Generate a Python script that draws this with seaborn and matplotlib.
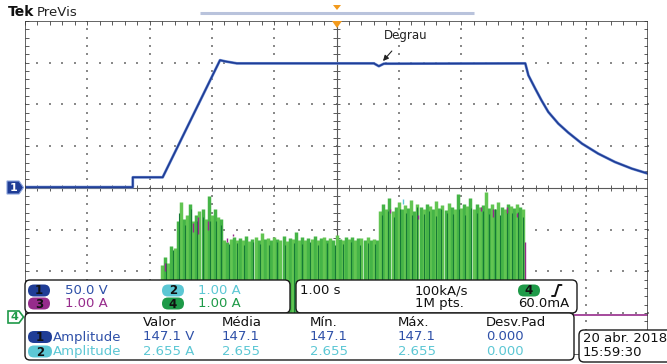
import numpy as np
import pandas as pd
import matplotlib
matplotlib.use("Agg")
import matplotlib.pyplot as plt
import seaborn as sns
from matplotlib.patches import FancyBboxPatch, Polygon, Rectangle

sns.set_style("white")
plt.rcParams["font.family"] = ["DejaVu Sans"]

# ---------------- data ----------------
# Channel 1 (voltage, V) vs time (s)
ch1_t = [0.0, 1.73, 1.73, 2.21, 3.13, 3.22, 3.40, 5.60, 5.68, 5.76, 8.03,
         8.08, 8.19, 8.29, 8.40, 8.56, 8.72, 8.94, 9.20, 9.47, 9.74, 10.0]
ch1_v = [0.8, 0.8, 12.6, 12.6, 153.0, 151.5, 149.2, 149.2, 145.8, 148.8, 149.2,
         134.9, 118.9, 104.9, 90.9, 77.0, 66.2, 53.0, 41.0, 30.9, 23.0, 17.0]

# Channel 4 (current, A) - sampled peak envelope
ch4_t_a = [2.20, 2.25, 2.30, 2.35, 2.40, 2.45, 2.50, 2.55, 2.60, 2.65,
           2.70, 2.75, 2.80, 2.85, 2.90, 2.95, 3.00, 3.05, 3.10, 3.15]
ch4_i_a = [1.25, 1.45, 1.30, 1.70, 1.65, 2.30, 2.75, 2.35, 2.45, 2.70,
           2.30, 2.45, 2.55, 2.60, 2.35, 2.90, 2.45, 2.60, 2.40, 2.35]
ch4_t_b = [3.20, 3.25, 3.30, 3.35, 3.40, 3.45, 3.50, 3.55, 3.60, 3.65,
           3.70, 3.75, 3.80, 3.85, 3.90, 3.95, 4.00, 4.05, 4.10, 4.15,
           4.20, 4.25, 4.30, 4.35, 4.40, 4.45, 4.50, 4.55, 4.60, 4.65,
           4.70, 4.75, 4.80, 4.85, 4.90, 4.95, 5.00, 5.05, 5.10, 5.15,
           5.20, 5.25, 5.30, 5.35, 5.40, 5.45, 5.50, 5.55, 5.60, 5.65]
ch4_i_b = [1.85, 1.80, 1.88, 1.92, 1.84, 1.90, 1.86, 1.95, 1.83, 1.88,
           1.91, 1.85, 2.02, 1.87, 1.90, 1.84, 1.93, 1.88, 1.86, 1.95,
           1.82, 1.90, 1.88, 2.05, 1.86, 1.92, 1.85, 1.90, 1.87, 1.94,
           1.84, 1.89, 1.92, 1.86, 1.90, 1.85, 1.98, 1.88, 1.84, 1.91,
           1.87, 1.93, 1.85, 1.89, 1.90, 1.86, 1.92, 1.84, 1.88, 1.85]
ch4_t_c = [5.70, 5.75, 5.80, 5.85, 5.90, 5.95, 6.00, 6.05, 6.10, 6.15,
           6.20, 6.25, 6.30, 6.35, 6.40, 6.45, 6.50, 6.55, 6.60, 6.65,
           6.70, 6.75, 6.80, 6.85, 6.90, 6.95, 7.00, 7.05, 7.10, 7.15,
           7.20, 7.25, 7.30, 7.35, 7.40, 7.45, 7.50, 7.55, 7.60, 7.65,
           7.70, 7.75, 7.80, 7.85, 7.90, 7.95, 8.00]
ch4_i_c = [2.55, 2.70, 2.60, 2.85, 2.55, 2.65, 2.75, 2.58, 2.68, 2.62,
           2.80, 2.55, 2.70, 2.64, 2.58, 2.72, 2.66, 2.60, 2.78, 2.62,
           2.68, 2.57, 2.74, 2.65, 2.60, 2.95, 2.62, 2.70, 2.66, 2.85,
           2.60, 2.72, 2.64, 2.68, 3.00, 2.62, 2.70, 2.58, 2.76, 2.65,
           2.60, 2.72, 2.66, 2.62, 2.70, 2.64, 2.60]

# darker current pulses of channel 4
ch4_dark_t = [2.27, 2.38, 2.47, 2.57, 2.66, 2.76, 2.86, 2.97, 3.06, 3.14,
              3.27, 3.40, 3.52, 3.66, 3.78, 3.91, 4.05, 4.18, 4.31, 4.45,
              4.58, 4.70, 4.84, 4.97, 5.10, 5.24, 5.37, 5.50, 5.62,
              5.73, 5.82, 5.92, 6.02, 6.11, 6.21, 6.30, 6.40, 6.49, 6.59,
              6.68, 6.78, 6.87, 6.97, 7.06, 7.16, 7.25, 7.35, 7.44, 7.54,
              7.63, 7.73, 7.82, 7.92, 8.00]
ch4_dark_i = [1.30, 1.60, 2.50, 2.20, 2.60, 2.30, 2.40, 2.30, 2.30, 2.20,
              1.75, 1.78, 1.72, 1.80, 1.76, 1.74, 1.79, 1.73, 1.77, 1.75,
              1.80, 1.72, 1.78, 1.74, 1.76, 1.79, 1.73, 1.77, 1.75,
              2.45, 2.55, 2.40, 2.60, 2.50, 2.45, 2.65, 2.48, 2.55, 2.42,
              2.60, 2.50, 2.46, 2.58, 2.44, 2.62, 2.50, 2.55, 2.48, 2.60,
              2.45, 2.56, 2.50, 2.52, 2.40]

# Channel 3 (current, A)
ch3_t = [0.0, 10.0]
ch3_i = [0.0, 0.0]
ch3_spk_t = [2.25, 2.70, 2.78, 2.94, 3.24, 3.34, 5.86, 6.31, 7.32, 7.51, 7.74, 7.90, 8.03]
ch3_spk_lo = [1.10, 2.05, 2.00, 2.10, 1.80, 1.95, 2.50, 2.35, 2.55, 2.40, 2.50, 2.40, 0.30]
ch3_spk_hi = [1.30, 2.25, 2.40, 2.30, 1.90, 2.00, 2.60, 2.45, 2.65, 2.60, 2.65, 2.50, 1.80]

# Channel 2 (current, A)
ch2_spk_t = [6.07]
ch2_spk_lo = [2.72]
ch2_spk_hi = [2.82]

# scales / offsets (div)
ch1_scale, ch1_off = 50.0, 0.0
ch4_scale, ch4_off = 1.0, -3.1
ch3_off = -3.06

# texts
box1_rows = [[("1", "50.0 V"), ("2", "1.00 A")], [("3", "1.00 A"), ("4", "1.00 A")]]
meas_headers = ["Valor", "Média", "Mín.", "Máx.", "Desv.Pad"]
meas_row1 = ["147.1 V", "147.1", "147.1", "147.1", "0.000"]
meas_row2 = ["2.655 A", "2.655", "2.655", "2.655", "0.000"]

# ---------------- colours ----------------
C1 = "#1f3d96"
C1T = "#2e50a8"
C2 = "#5cc7d4"
C3 = "#962b8b"
C4 = "#1e9a48"
G_LIGHT = "#62c552"
G_MID = "#45b447"
G_DARK = "#167a36"

W, H = 667, 364
fig = plt.figure(figsize=(W / 100, H / 100), dpi=100)
fig.patch.set_facecolor("white")
L, R, T, B = 25, 648, 21, 354.6
ax = fig.add_axes([L / W, 1 - B / H, (R - L) / W, (B - T) / H])

# ---- graticule ----
mx = np.arange(0, 10.001, 0.2)
my = np.arange(-4, 4.001, 0.2)
for gx in [1, 2, 3, 4, 6, 7, 8, 9]:
    ax.scatter(np.full(len(my), gx), my, s=1.2, c="#8a8a8a", marker="s", lw=0, zorder=1)
for gy in [-3, -2, -1, 1, 2, 3]:
    ax.scatter(mx, np.full(len(mx), gy), s=1.2, c="#8a8a8a", marker="s", lw=0, zorder=1)
ax.axhline(0, color="#5a5a5a", lw=0.8, zorder=1)
ax.axvline(5, color="#5a5a5a", lw=0.8, zorder=1)
ax.vlines(mx, -0.07, 0.07, color="#5a5a5a", lw=0.7, zorder=1)
ax.hlines(my, 4.95, 5.05, color="#5a5a5a", lw=0.7, zorder=1)
ax.vlines(mx, 3.9, 4.0, color="#5a5a5a", lw=0.7, zorder=1)
ax.vlines(mx, -4.0, -3.9, color="#5a5a5a", lw=0.7, zorder=1)
ax.hlines(my, 0, 0.07, color="#5a5a5a", lw=0.7, zorder=1)
ax.hlines(my, 9.93, 10, color="#5a5a5a", lw=0.7, zorder=1)
ax.add_patch(Rectangle((0, -4), 10, 8, fill=False, ec="#3a3a3a", lw=1.1, zorder=6))

# ---- channel 3 baseline ----
ax.plot(ch3_t, np.array(ch3_i) + ch3_off, color=C3, lw=1.2, zorder=2)

# ---- channel 4 ----
for ts, ii in [(ch4_t_a, ch4_i_a), (ch4_t_b, ch4_i_b), (ch4_t_c, ch4_i_c)]:
    ts = np.array(ts); ii = np.array(ii)
    cols = [G_LIGHT if k % 2 == 0 else G_MID for k in range(len(ts))]
    ax.vlines(ts, ch4_off, ch4_off + ii / ch4_scale, colors=cols, lw=2.5, zorder=3)
ax.vlines(ch4_dark_t, ch4_off, ch4_off + np.array(ch4_dark_i) / ch4_scale,
          colors=G_DARK, lw=0.8, zorder=4)
ax.vlines(ch3_spk_t, ch4_off + np.array(ch3_spk_lo), ch4_off + np.array(ch3_spk_hi),
          colors=C3, lw=1.0, zorder=4)
ax.vlines(ch2_spk_t, ch4_off + np.array(ch2_spk_lo), ch4_off + np.array(ch2_spk_hi),
          colors=C2, lw=1.0, zorder=4)

# ---- channel 1 ----
df1 = pd.DataFrame({"t": ch1_t, "div": np.array(ch1_v) / ch1_scale + ch1_off})
sns.lineplot(data=df1, x="t", y="div", ax=ax, estimator=None, sort=False,
             color="#6f8ed2", lw=2.0, zorder=5)
sns.lineplot(data=df1, x="t", y="div", ax=ax, estimator=None, sort=False,
             color=C1, lw=1.2, zorder=5)

ax.set_xlim(0, 10)
ax.set_ylim(-4, 4)
ax.axis("off")

# ---------------- overlay (pixel coords) ----------------
ov = fig.add_axes([0, 0, 1, 1])
ov.set_xlim(0, W)
ov.set_ylim(H, 0)
ov.axis("off")
ov.set_zorder(5)


def rbox(x0, y0, x1, y1, r=5, ec="#1a1a1a", fc="white", lw=1.0):
    ov.add_patch(FancyBboxPatch((x0, y0), x1 - x0, y1 - y0,
                                boxstyle=f"round,pad=0,rounding_size={r}",
                                ec=ec, fc=fc, lw=lw))


def badge(cx, cy, fc, txt, w=22, h=12, tc="#111111"):
    ov.add_patch(FancyBboxPatch((cx - w / 2, cy - h / 2), w, h,
                                boxstyle=f"round,pad=0,rounding_size={h / 2}",
                                ec="none", fc=fc))
    ov.text(cx, cy + 0.5, txt, ha="center", va="center", fontsize=8.5,
            color=tc, fontweight="bold")


FS = 9.5
# title
ov.text(8, 12, "Tek", fontsize=10, fontweight="bold", va="center", ha="left", color="#111")
ov.text(37, 12.5, "PreVis", fontsize=9.5, va="center", ha="left", color="#222")
ov.plot([200, 474], [13, 13], color="#b9c3dc", lw=2.2, solid_capstyle="butt")
ov.add_patch(Polygon([(333, 5), (341, 5), (337, 10)], closed=True, fc="#f29a1c", ec="none"))
ov.add_patch(Polygon([(332, 21), (342, 21), (337, 28)], closed=True, fc="#f29a1c", ec="none"))

# Degrau annotation
ov.annotate("Degrau", xy=(383, 61), xytext=(406, 35), ha="center", va="center",
            fontsize=8.5, color="#222",
            arrowprops=dict(arrowstyle="-|>", color="#222", lw=0.8,
                            shrinkA=6, shrinkB=0, mutation_scale=8))

# channel markers on the left
ov.add_patch(Polygon([(7, 181), (19, 181), (23.5, 187.5), (19, 194), (7, 194)],
                     closed=True, fc=C1, ec="#8aa3dd", lw=0.8))
ov.text(13.5, 188, "1", ha="center", va="center", fontsize=8, color="white", fontweight="bold")
ov.add_patch(Polygon([(8, 311), (19, 311), (23.5, 317), (19, 323), (8, 323)],
                     closed=True, fc="white", ec=C4, lw=1.2))
ov.text(14, 317.5, "4", ha="center", va="center", fontsize=8, color=C4, fontweight="bold")

# box 1 : channel scales
rbox(25, 280, 290, 313)
row_y = [290.5, 303.5]
badge_cols = {"1": C1, "2": C2, "3": C3, "4": C4}
text_cols = {"1": C1T, "2": C2, "3": C3, "4": C4}
for r, row in enumerate(box1_rows):
    for c, (ch, val) in enumerate(row):
        bx = 39 if c == 0 else 173
        tx = 65 if c == 0 else 198
        badge(bx, row_y[r], badge_cols[ch], ch)
        ov.text(tx, row_y[r], val, ha="left", va="center", fontsize=FS, color=text_cols[ch])

# box 2 : timebase / trigger
rbox(296, 280, 577, 313)
ov.text(300, row_y[0], "1.00 s", ha="left", va="center", fontsize=FS, color="#111")
ov.text(415, row_y[0], "100kA/s", ha="left", va="center", fontsize=FS, color="#111")
ov.text(415, row_y[1], "1M pts.", ha="left", va="center", fontsize=FS, color="#111")
badge(529, row_y[0], C4, "4")
ov.plot([552, 555, 558.5, 561.5], [296, 296, 285, 285], color="#111", lw=1.4)
ov.text(518, row_y[1], "60.0mA", ha="left", va="center", fontsize=FS, color="#111")

# measurement box
rbox(25, 313, 574, 360)
col_x = [143, 222, 310, 398, 486]
for x, h in zip(col_x, meas_headers):
    ov.text(x, 323, h, ha="left", va="center", fontsize=FS, color="#111")
badge(40, 337, C1, "1", w=24)
badge(40, 351.5, C2, "2", w=24)
ov.text(53, 337, "Amplitude", ha="left", va="center", fontsize=FS, color=C1T)
ov.text(53, 351.5, "Amplitude", ha="left", va="center", fontsize=FS, color=C2)
for x, v1, v2 in zip(col_x, meas_row1, meas_row2):
    ov.text(x, 337, v1, ha="left", va="center", fontsize=FS, color=C1T)
    ov.text(x, 351.5, v2, ha="left", va="center", fontsize=FS, color=C2)

# date box
rbox(579, 330, 675, 362)
ov.text(583, 338, "20 abr. 2018", ha="left", va="center", fontsize=FS, color="#111")
ov.text(583, 353, "15:59:30", ha="left", va="center", fontsize=FS, color="#111")

fig.savefig("out.png", dpi=100, facecolor="white")
